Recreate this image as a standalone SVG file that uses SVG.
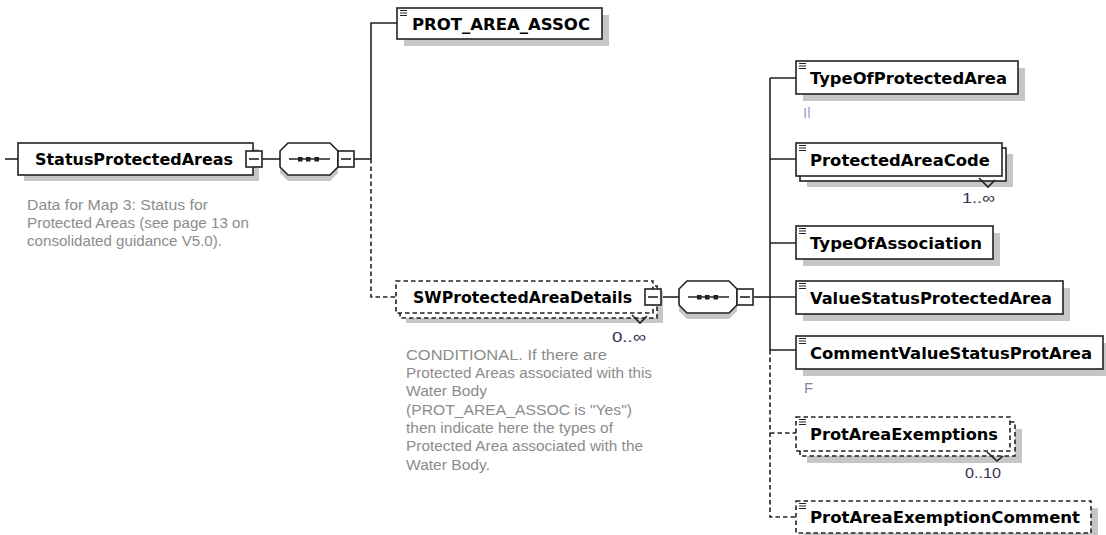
<svg xmlns="http://www.w3.org/2000/svg" xmlns:xlink="http://www.w3.org/1999/xlink" width="1106" height="535" viewBox="0 0 1106 535">
<style>
.box{fill:#fff;stroke:#222;stroke-width:1.6}
.dash{stroke-dasharray:4.5 3}
.sh{fill:#c6c6c6}
.ln{stroke:#222;stroke-width:1.6;fill:none}
.lbl{font-family:"DejaVu Sans",Verdana,sans-serif;font-weight:bold;font-size:16.5px;fill:#000}
.desc{font-family:"Liberation Sans",Arial,sans-serif;font-size:15.2px;fill:#8c8c8c}
.mult{font-family:"Liberation Sans",Arial,sans-serif;font-size:15px;fill:#3a3050}
.ann{font-family:"Liberation Sans",Arial,sans-serif;font-size:15px}
</style>
<defs>
<path id="ic" d="M0,0.5h7M0,3h7M0,5.5h7" stroke="#222" stroke-width="1.2" fill="none"/>
<g id="mb"><rect x="0" y="0" width="16" height="16" class="box"/><path d="M3,8h10" class="ln"/></g>
<g id="seq">
<path d="M8,6H50L58,14V30L50,38H8L0,30V14Z" class="sh"/>
<path d="M8,0H50L58,8V24L50,32H8L0,24V8Z" class="box"/>
<path d="M9,16H50" class="ln"/>
<rect x="18" y="14" width="4.5" height="4.5" fill="#222"/>
<rect x="26" y="14" width="4.5" height="4.5" fill="#222"/>
<rect x="34.5" y="14" width="4.5" height="4.5" fill="#222"/>
</g>
</defs>

<g id="connectors">
<path d="M5,159H18" class="ln"/>
<path d="M262,159H280" class="ln"/>
<path d="M354,159H371" class="ln"/>
<path d="M371,159V23H397" class="ln"/>
<path d="M371,159V297H396" class="ln dash"/>
<path d="M661,297H679" class="ln"/>
<path d="M754,297H770" class="ln"/>
<path d="M770,78V350" class="ln"/>
<path d="M770,78H796M770,159H796M770,243H796M770,297H796M770,350H796" class="ln"/>
<path d="M770,350V517H796M770,433H796" class="ln dash"/>
</g>

<g id="StatusProtectedAreas">
<rect x="24" y="149" width="235" height="32" class="sh"/>
<rect x="18" y="143" width="235" height="32" class="box"/>
<text x="35" y="165" class="lbl" textLength="198" lengthAdjust="spacingAndGlyphs">StatusProtectedAreas</text>
<use xlink:href="#mb" x="246" y="151"/>
<text class="desc" x="27" y="210" textLength="181" lengthAdjust="spacingAndGlyphs">Data for Map 3: Status for</text>
<text class="desc" x="27" y="228" textLength="222" lengthAdjust="spacingAndGlyphs">Protected Areas (see page 13 on</text>
<text class="desc" x="27" y="246" textLength="195" lengthAdjust="spacingAndGlyphs">consolidated guidance V5.0).</text>
</g>

<g id="seq1">
<use xlink:href="#seq" x="280" y="143"/>
<use xlink:href="#mb" x="338" y="151"/>
</g>

<g id="PROT_AREA_ASSOC">
<rect x="404" y="15" width="205" height="31" class="sh"/>
<rect x="397" y="8" width="205" height="31" class="box"/>
<use xlink:href="#ic" x="400" y="10"/>
<text x="412" y="30" class="lbl" textLength="178" lengthAdjust="spacingAndGlyphs">PROT_AREA_ASSOC</text>
</g>

<g id="SWProtectedAreaDetails">
<rect x="406" y="291" width="257" height="32" class="sh"/>
<rect x="400" y="286" width="257" height="32" class="box dash"/>
<rect x="396" y="281" width="257" height="32" class="box dash"/>
<text x="413" y="303" class="lbl" textLength="219" lengthAdjust="spacingAndGlyphs">SWProtectedAreaDetails</text>
<use xlink:href="#mb" x="645" y="289"/>
<path d="M632,315L640,323L647,316" class="ln" stroke-width="1.2"/>
<text x="612" y="342" class="mult" textLength="34" lengthAdjust="spacingAndGlyphs">0..∞</text>
<text class="desc" x="406" y="360" textLength="201" lengthAdjust="spacingAndGlyphs">CONDITIONAL. If there are</text>
<text class="desc" x="406" y="378" textLength="246" lengthAdjust="spacingAndGlyphs">Protected Areas associated with this</text>
<text class="desc" x="406" y="396" textLength="81" lengthAdjust="spacingAndGlyphs">Water Body</text>
<text class="desc" x="406" y="415" textLength="226" lengthAdjust="spacingAndGlyphs">(PROT_AREA_ASSOC is "Yes")</text>
<text class="desc" x="406" y="433" textLength="207" lengthAdjust="spacingAndGlyphs">then indicate here the types of</text>
<text class="desc" x="406" y="451" textLength="237" lengthAdjust="spacingAndGlyphs">Protected Area associated with the</text>
<text class="desc" x="406" y="470" textLength="84" lengthAdjust="spacingAndGlyphs">Water Body.</text>
</g>

<g id="seq2">
<use xlink:href="#seq" x="679" y="281"/>
<use xlink:href="#mb" x="737" y="289"/>
</g>

<g id="TypeOfProtectedArea">
<rect x="803" y="68" width="222" height="33" class="sh"/>
<rect x="796" y="61" width="222" height="33" class="box"/>
<use xlink:href="#ic" x="799" y="63"/>
<text x="810" y="83.5" class="lbl" textLength="197" lengthAdjust="spacingAndGlyphs">TypeOfProtectedArea</text>
<text x="803" y="118" class="ann" fill="#9aa6c4">Il</text>
</g>

<g id="ProtectedAreaCode">
<rect x="807" y="154" width="206" height="33" class="sh"/>
<rect x="800" y="148" width="206" height="33" class="box"/>
<rect x="796" y="143" width="206" height="33" class="box"/>
<use xlink:href="#ic" x="799" y="145"/>
<text x="810" y="165.5" class="lbl" textLength="180" lengthAdjust="spacingAndGlyphs">ProtectedAreaCode</text>
<path d="M979,178L988,187L995,180" class="ln" stroke-width="1.2"/>
<text x="962" y="203" class="mult" textLength="33" lengthAdjust="spacingAndGlyphs">1..∞</text>
</g>

<g id="TypeOfAssociation">
<rect x="803" y="233" width="197" height="33" class="sh"/>
<rect x="796" y="226" width="197" height="33" class="box"/>
<use xlink:href="#ic" x="799" y="228"/>
<text x="810" y="248.5" class="lbl" textLength="172" lengthAdjust="spacingAndGlyphs">TypeOfAssociation</text>
</g>

<g id="ValueStatusProtectedArea">
<rect x="803" y="288" width="267" height="33" class="sh"/>
<rect x="796" y="281" width="267" height="33" class="box"/>
<use xlink:href="#ic" x="799" y="283"/>
<text x="810" y="303.5" class="lbl" textLength="242" lengthAdjust="spacingAndGlyphs">ValueStatusProtectedArea</text>
</g>

<g id="CommentValueStatusProtArea">
<rect x="803" y="343" width="307" height="33" class="sh"/>
<rect x="796" y="336" width="307" height="33" class="box"/>
<use xlink:href="#ic" x="799" y="338"/>
<text x="810" y="358.5" class="lbl" textLength="282" lengthAdjust="spacingAndGlyphs">CommentValueStatusProtArea</text>
<text x="804" y="393" class="ann" fill="#8e8499">F</text>
</g>

<g id="ProtAreaExemptions">
<rect x="807" y="429" width="215" height="34" class="sh"/>
<rect x="800" y="422" width="215" height="34" class="box dash"/>
<rect x="796" y="417" width="214" height="34" class="box dash"/>
<use xlink:href="#ic" x="799" y="419"/>
<text x="810" y="440" class="lbl" textLength="188" lengthAdjust="spacingAndGlyphs">ProtAreaExemptions</text>
<path d="M987,452L997,461L1003,456" class="ln" stroke-width="1.2"/>
<text x="965" y="478" class="mult" textLength="36" lengthAdjust="spacingAndGlyphs">0..10</text>
</g>

<g id="ProtAreaExemptionComment">
<rect x="803" y="508" width="295" height="32" class="sh"/>
<rect x="796" y="501" width="295" height="32" class="box dash"/>
<use xlink:href="#ic" x="799" y="503"/>
<text x="810" y="523" class="lbl" textLength="270" lengthAdjust="spacingAndGlyphs">ProtAreaExemptionComment</text>
</g>
</svg>
